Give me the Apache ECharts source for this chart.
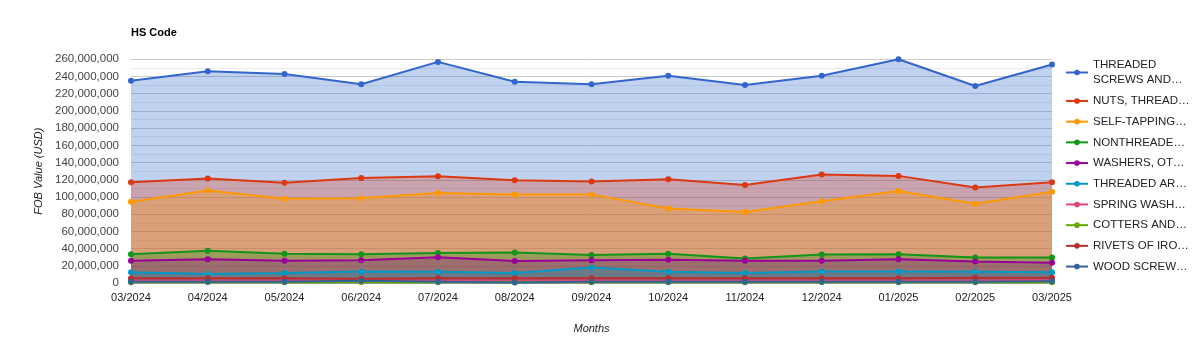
<!DOCTYPE html>
<html>
<head>
<meta charset="utf-8">
<script src="https://cdn.jsdelivr.net/npm/echarts@6/dist/echarts.min.js"></script>
<style>
html,body{margin:0;padding:0;background:#fff;}
#chart{width:1197px;height:343px;}
</style>
</head>
<body>
<div id="chart"></div>
<script>
const months = ['03/2024','04/2024','05/2024','06/2024','07/2024','08/2024','09/2024','10/2024','11/2024','12/2024','01/2025','02/2025','03/2025'];
const seriesNames = ['THREADED SCREWS AND…','NUTS, THREAD…','SELF-TAPPING…','NONTHREADE…','WASHERS, OT…','THREADED AR…','SPRING WASH…','COTTERS AND…','RIVETS OF IRO…','WOOD SCREW…'];
const colors = ['#3366cc','#dc3912','#ff9900','#109618','#990099','#0099c6','#dd4477','#66aa00','#b82e2e','#316395'];
const threadedScrews = [235000000,246000000,243000000,231000000,257000000,234000000,231000000,241000000,230000000,241000000,260000000,229000000,254000000];
const nuts = [117000000,121500000,116500000,122000000,124000000,119500000,118000000,120500000,114000000,126000000,124500000,111000000,117000000];
const selfTapping = [94500000,107500000,98000000,98500000,104500000,103000000,103000000,86500000,82500000,95000000,107000000,92000000,106000000];
const nonthreaded = [33500000,37500000,34000000,33500000,35000000,35500000,32500000,34000000,28500000,33000000,33500000,29500000,29500000];
const washers = [26000000,27500000,26000000,26500000,30000000,25500000,26500000,27000000,26000000,26000000,27500000,25000000,23500000];
const threadedArticles = [12500000,10500000,11500000,13500000,13000000,11500000,18000000,13000000,11500000,13500000,13500000,13000000,12500000];
const springWashers = [3000000,3000000,3000000,3500000,3000000,3000000,3000000,3000000,3000000,3000000,3000000,3000000,3500000];
const cotters = [1000000,1200000,900000,1100000,1000000,1200000,800000,1000000,900000,1100000,1000000,900000,1000000];
const rivets = [5500000,5500000,5500000,5000000,5500000,5500000,5500000,5500000,5500000,5500000,5500000,6000000,6000000];
const woodScrews = [1500000,1500000,1500000,2500000,1500000,500000,1500000,1500000,1500000,1500000,1500000,1500000,2000000];
const yTicks = {min:0, max:260000000, interval:20000000};

const allData = [threadedScrews,nuts,selfTapping,nonthreaded,washers,threadedArticles,springWashers,cotters,rivets,woodScrews];

function fmt(v){ return String(v).replace(/\B(?=(\d{3})+(?!\d))/g, ','); }

const chart = echarts.init(document.getElementById('chart'));
chart.setOption({
  animation:false,
  color: colors,
  title:{
    text:'HS Code', left:126, top:22,
    textStyle:{fontFamily:'Liberation Sans, Arial', fontSize:11, fontWeight:'bold', color:'#000'}
  },
  legend:{
    orient:'vertical', left:1060, top:52, itemGap:5.2,
    itemWidth:22, itemHeight:7,
    textStyle:{fontFamily:'Liberation Sans, Arial', fontSize:11.5, color:'#222', lineHeight:15.5},
    formatter:function(name){ return name === seriesNames[0] ? 'THREADED\nSCREWS AND…' : name; },
    data: seriesNames
  },
  grid:{left:131, right:145, top:59.3, bottom:60},
  xAxis:{
    type:'category', data:months, boundaryGap:false,
    name:'Months', nameLocation:'middle', nameGap:40,
    nameTextStyle:{fontFamily:'Liberation Sans, Arial', fontSize:11, fontStyle:'italic', color:'#222'},
    axisLine:{show:true, lineStyle:{color:'#999'}},
    axisTick:{show:false},
    axisLabel:{fontFamily:'Liberation Sans, Arial', fontSize:11, color:'#222', margin:9},
    splitLine:{show:false}
  },
  yAxis:{
    type:'value', min:yTicks.min, max:yTicks.max, interval:yTicks.interval,
    name:'FOB Value (USD)', nameLocation:'middle', nameGap:87, nameRotate:90,
    nameTextStyle:{fontFamily:'Liberation Sans, Arial', fontSize:11, fontStyle:'italic', color:'#222'},
    axisLine:{show:false}, axisTick:{show:false},
    axisLabel:{fontFamily:'Liberation Sans, Arial', fontSize:11.5, color:'#444', margin:12, formatter:fmt},
    splitLine:{show:true, lineStyle:{color:'#cccccc'}},
    minorTick:{show:false, splitNumber:2},
    minorSplitLine:{show:true, lineStyle:{color:'#ebebeb'}}
  },
  series: allData.map(function(d,i){
    return {
      name: seriesNames[i], type:'line', data:d,
      symbol:'circle', symbolSize:6, showSymbol:true,
      lineStyle:{width:2},
      areaStyle:{opacity:0.3},
      itemStyle:{color:colors[i]}
    };
  })
});
</script>
</body>
</html>
